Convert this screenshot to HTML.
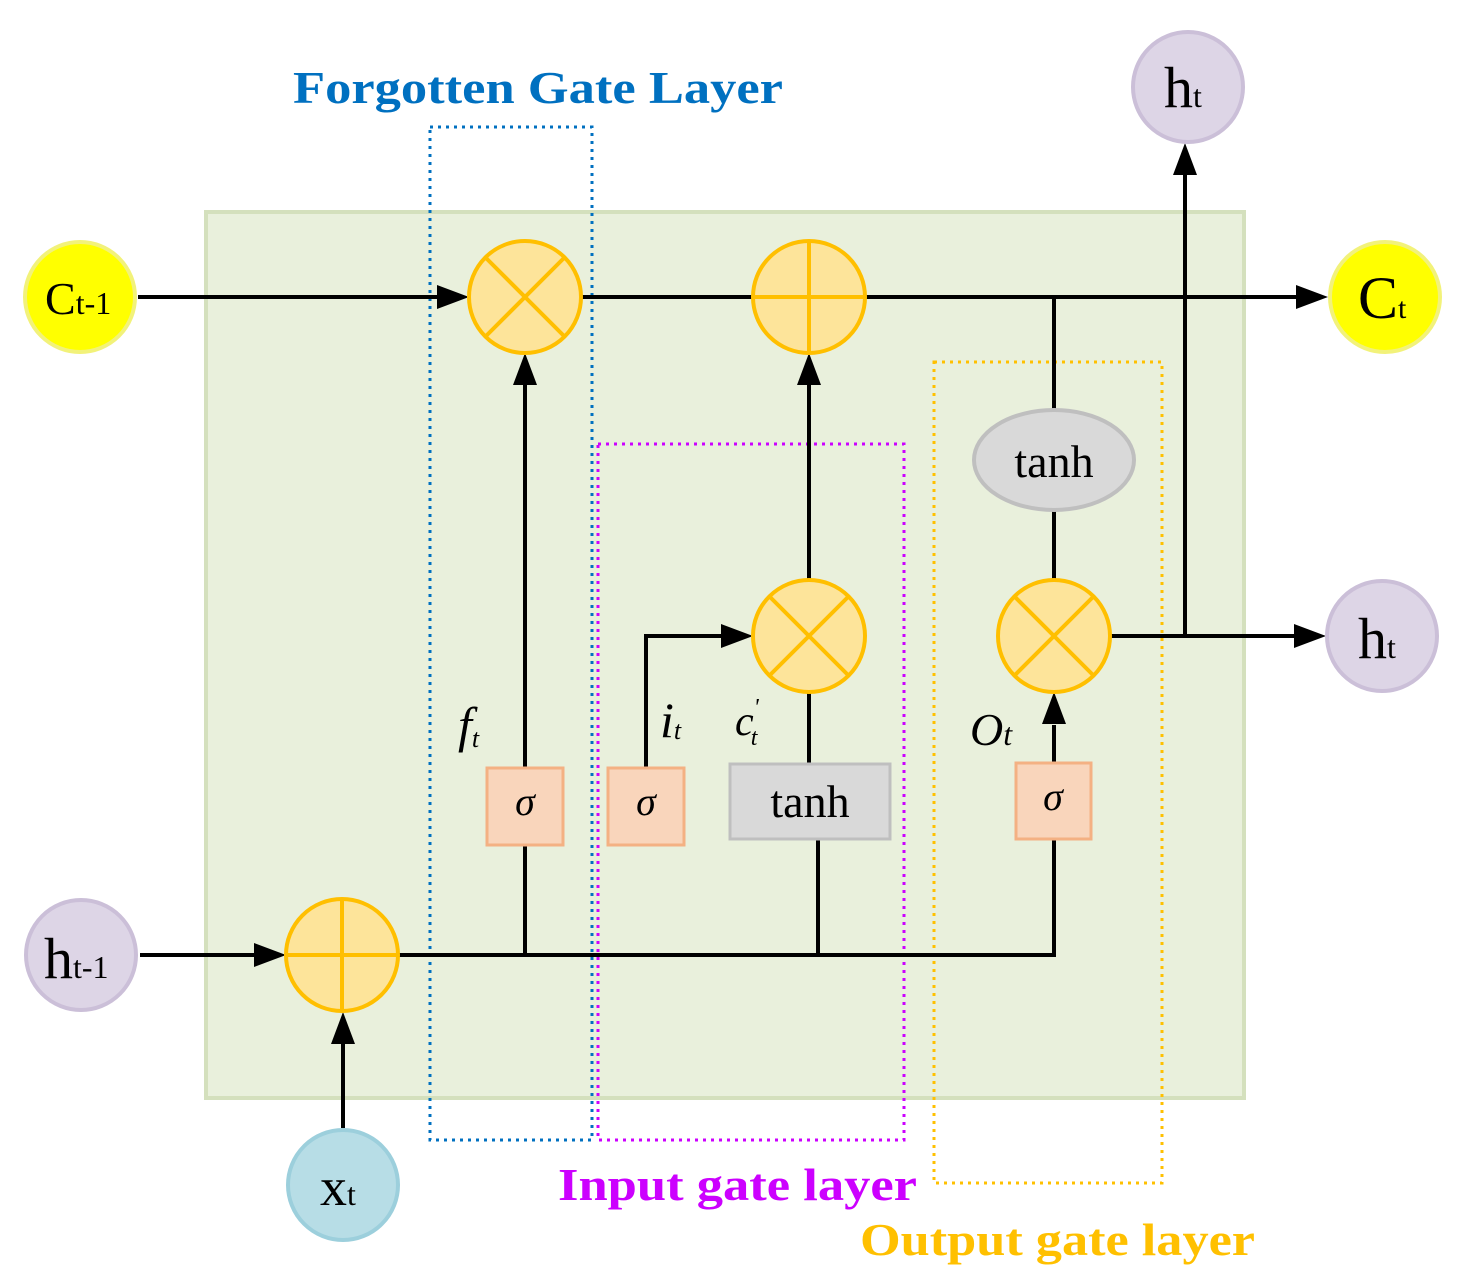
<!DOCTYPE html>
<html><head><meta charset="utf-8"><style>body{margin:0;background:#fff}svg{display:block}</style></head><body>
<svg width="1463" height="1288" viewBox="0 0 1463 1288" xmlns="http://www.w3.org/2000/svg" font-family="Liberation Serif, serif">
<rect x="206" y="212" width="1038" height="886" fill="#e9f0dc" stroke="#d4e0bd" stroke-width="4"/>
<rect x="430" y="127" width="162" height="1013" fill="none" stroke="#0070c0" stroke-width="3" stroke-dasharray="3,5"/>
<rect x="598" y="444" width="306" height="696" fill="none" stroke="#cc00ff" stroke-width="3" stroke-dasharray="3,5"/>
<rect x="934" y="362" width="228" height="821" fill="none" stroke="#ffc000" stroke-width="3" stroke-dasharray="3,5"/>
<g stroke="#000" stroke-width="4" fill="none">
<path d="M138 297H440M581 297H753M865 297H1300M1054 297V410M1054 510V580M1110 636H1300M1185 636V170M525 768V383M809 580V383M646 768V636H726M809 692V764M140 955H258M398 955H1054V839M525 955V845M818 955V839M1054 763V725M343 1128V1040"/>
</g>
<g fill="#000">
<path d="M469 297l-32 -12v24z"/><path d="M1328 297l-32 -12v24z"/><path d="M1326 636l-32 -12v24z"/>
<path d="M1185 143l-12 32h24z"/><path d="M525 353l-12 32h24z"/><path d="M809 353l-12 32h24z"/>
<path d="M753 636l-32 -12v24z"/><path d="M286 955l-32 -12v24z"/><path d="M1054 692l-12 32h24z"/><path d="M343 1012l-12 32h24z"/>
</g>
<g fill="#fde49a" stroke="#ffbf00" stroke-width="4">
<circle cx="525" cy="297" r="56"/><circle cx="809" cy="297" r="56"/><circle cx="809" cy="636" r="56"/><circle cx="1054" cy="636" r="56"/><circle cx="342" cy="955" r="56"/>
</g>
<g stroke="#ffbf00" stroke-width="4">
<path d="M485 257l80 80M565 257l-80 80M769 596l80 80M849 596l-80 80M1014 596l80 80M1094 596l-80 80"/>
<path d="M753 297H865M809 241V353M286 955H398M342 899V1011"/>
</g>
<g fill="#f9d5bb" stroke="#f4b183" stroke-width="3">
<rect x="487" y="768" width="76" height="77"/><rect x="608" y="768" width="76" height="77"/><rect x="1016" y="763" width="75" height="76"/>
</g>
<rect x="730" y="764" width="160" height="75" fill="#d9d9d9" stroke="#bfbfbf" stroke-width="3"/>
<ellipse cx="1054" cy="460" rx="80" ry="50" fill="#d9d9d9" stroke="#bfbfbf" stroke-width="4"/>
<circle cx="80" cy="297" r="55" fill="#ffff00" stroke="#f2f27a" stroke-width="4"/>
<circle cx="1385" cy="297" r="55" fill="#ffff00" stroke="#f2f27a" stroke-width="4"/>
<g fill="#ddd5e6" stroke="#cbbfd8" stroke-width="4">
<circle cx="81" cy="955" r="55"/><circle cx="1188" cy="87" r="55"/><circle cx="1382" cy="636" r="55"/>
</g>
<circle cx="343" cy="1185" r="55" fill="#b7dde6" stroke="#9ccfdc" stroke-width="4"/>
<g fill="#000" font-size="58">
<text x="45" y="314" font-size="46">C<tspan font-size="32">t-1</tspan></text>
<text x="1358" y="318" font-size="60">C<tspan font-size="30">t</tspan></text>
<text x="44" y="978">h<tspan font-size="32">t-1</tspan></text>
<text x="1164" y="107">h<tspan font-size="32">t</tspan></text>
<text x="1358" y="658">h<tspan font-size="32">t</tspan></text>
<text x="320" y="1205" font-size="54">x<tspan font-size="32">t</tspan></text>
<text x="1054" y="477" text-anchor="middle" font-size="46">tanh</text>
<text x="810" y="817" text-anchor="middle" font-size="46">tanh</text>
<g font-style="italic" font-size="40"><text x="525" y="815" text-anchor="middle">σ</text><text x="646" y="815" text-anchor="middle">σ</text><text x="1053" y="810" text-anchor="middle">σ</text></g>
<g font-style="italic" font-size="50">
<text x="458" y="742">f<tspan font-size="26" dy="5">t</tspan></text>
<text x="660" y="737">i<tspan font-size="26" dy="2">t</tspan></text>
<text x="735" y="735" font-size="42">c<tspan font-size="24" dy="-20">'</tspan><tspan font-size="24" dx="-8" dy="30">t</tspan></text>
<text x="970" y="745" font-size="46">O<tspan font-size="32">t</tspan></text>
</g>
</g>
<g font-weight="bold" font-size="46">
<text x="293" y="103" fill="#0070c0" textLength="490" lengthAdjust="spacingAndGlyphs">Forgotten Gate Layer</text>
<text x="558" y="1200" fill="#cc00ff" textLength="359" lengthAdjust="spacingAndGlyphs">Input gate layer</text>
<text x="860" y="1255" fill="#ffc000" textLength="395" lengthAdjust="spacingAndGlyphs">Output gate layer</text>
</g>
</svg>
</body></html>
